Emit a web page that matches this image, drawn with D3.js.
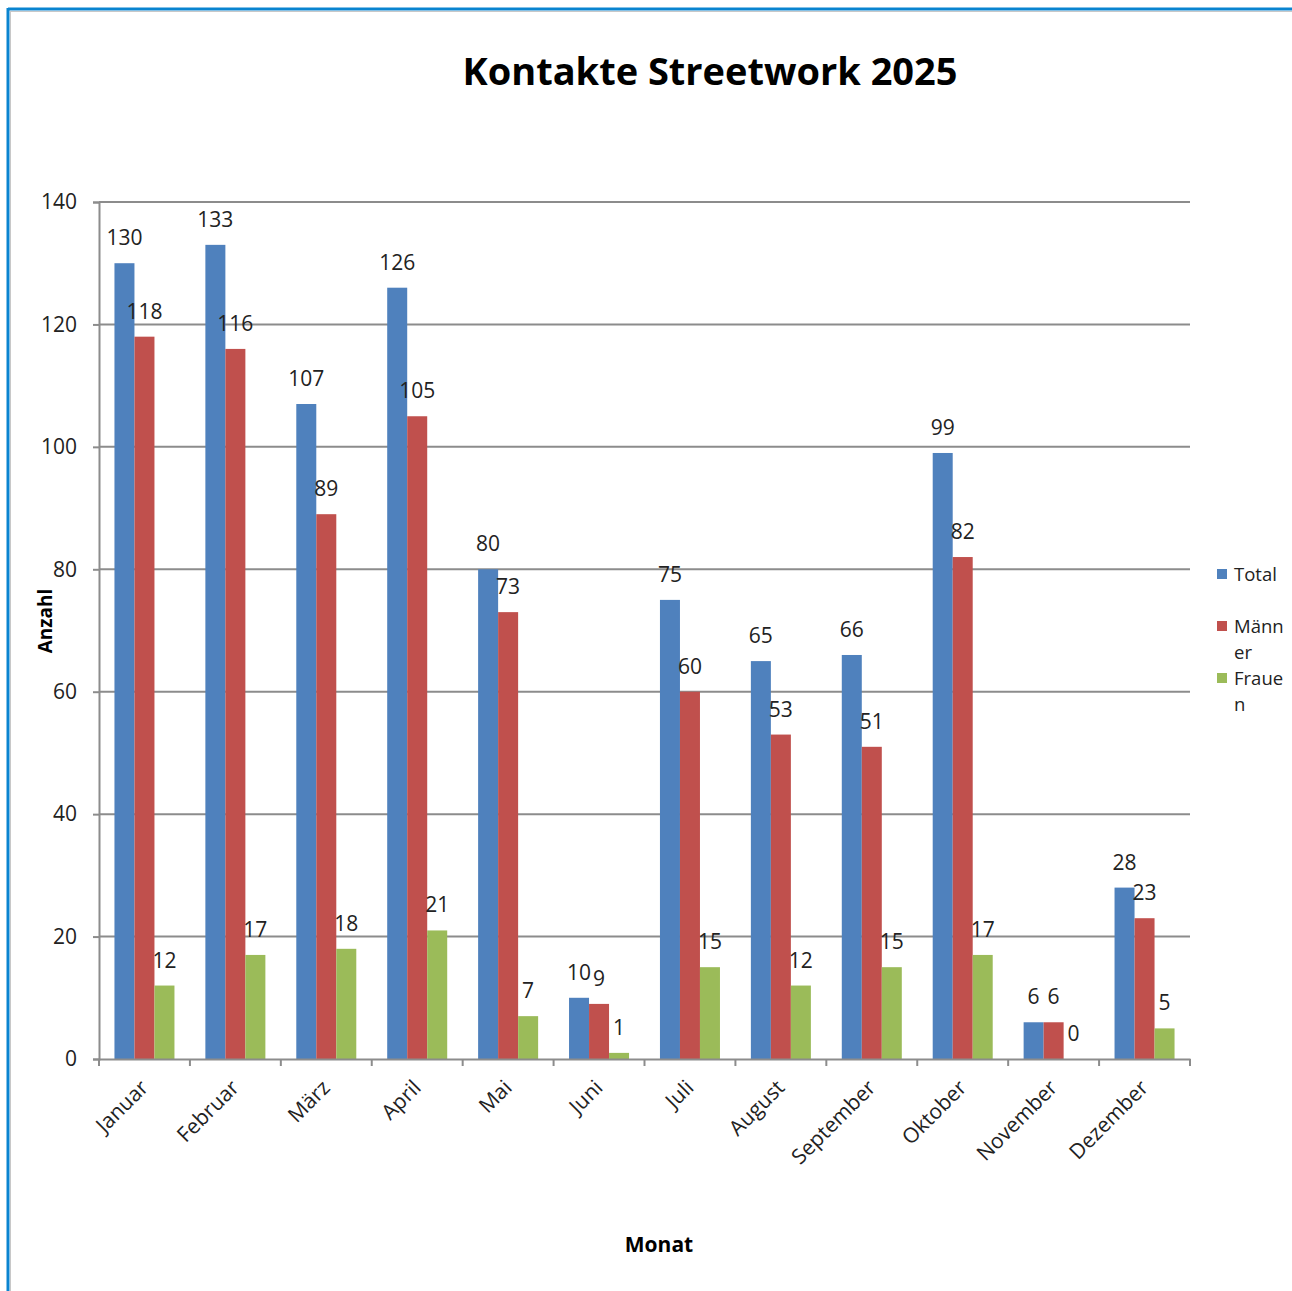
<!DOCTYPE html>
<html><head><meta charset="utf-8">
<script src="https://cdn.jsdelivr.net/npm/d3@7"></script>
<style>html,body{margin:0;padding:0;background:#fff;}svg{display:block;}</style>
</head><body>
<script>
const categories = ["Januar","Februar","März","April","Mai","Juni","Juli","August","September","Oktober","November","Dezember"];
const seriesNames = ["Total","Männer","Frauen"];
const total = [130,133,107,126,80,10,75,65,66,99,6,28];
const maenner = [118,116,89,105,73,9,60,53,51,82,6,23];
const frauen = [12,17,18,21,7,1,15,12,15,17,0,5];
const yTicks = [0,20,40,60,80,100,120,140];
const colors = ["#4F81BD","#C0504D","#9BBB59"];

const W = 1292, H = 1291;
const svg = d3.select("body").append("svg").attr("width", W).attr("height", H);
const font = "'Open Sans', 'Liberation Sans', sans-serif";

// frame
svg.append("line").attr("x1",8).attr("x2",W).attr("y1",9).attr("y2",9).attr("stroke","#0A84D0").attr("stroke-width",3);
svg.append("line").attr("x1",8).attr("x2",8).attr("y1",8).attr("y2",H).attr("stroke","#0A84D0").attr("stroke-width",3);
svg.append("line").attr("x1",11).attr("x2",W).attr("y1",11.5).attr("y2",11.5).attr("stroke","#c8c8c8").attr("stroke-width",1);
svg.append("line").attr("x1",10.5).attr("x2",10.5).attr("y1",11).attr("y2",H).attr("stroke","#c8c8c8").attr("stroke-width",1);

const pLeft = 99, pRight = 1190, pTop = 202, pBottom = 1059;
const x = d3.scaleBand().domain(categories).range([pLeft, pRight]).padding(0);
const y = d3.scaleLinear().domain([0,140]).range([pBottom, pTop]);
const bw = x.bandwidth();
const barW = bw * 0.22;
const x1 = d3.scaleBand().domain(seriesNames).range([(bw - 3*barW)/2, (bw + 3*barW)/2]);

// gridlines
svg.append("g").selectAll("line").data(yTicks.filter(d=>d>0)).join("line")
  .attr("x1", pLeft).attr("x2", pRight).attr("y1", d=>y(d)).attr("y2", d=>y(d))
  .attr("stroke","#8c8c8c").attr("stroke-width",2);

// y axis
const yAxis = svg.append("g").attr("transform",`translate(${pLeft},0)`)
  .call(d3.axisLeft(y).tickValues(yTicks).tickSize(6).tickPadding(16));
yAxis.select(".domain").attr("stroke","#8c8c8c").attr("stroke-width",2);
yAxis.selectAll(".tick line").attr("stroke","#8c8c8c").attr("stroke-width",2);
yAxis.selectAll("text").attr("font-family",font).attr("font-size",21).attr("fill","#222");

// bars
const data = [total, maenner, frauen];
const groups = svg.append("g").selectAll("g").data(categories).join("g")
  .attr("transform", d=>`translate(${x(d)},0)`);
groups.selectAll("rect").data((c,i)=>seriesNames.map((s,j)=>({s, v:data[j][i], j})))
  .join("rect")
  .attr("x", d=>x1(d.s)).attr("width", x1.bandwidth())
  .attr("y", d=>y(d.v)).attr("height", d=>pBottom - y(d.v))
  .attr("fill", d=>colors[d.j]);
groups.selectAll("text").data((c,i)=>seriesNames.map((s,j)=>({s, v:data[j][i], j})))
  .join("text")
  .attr("x", d=>x1(d.s) + x1.bandwidth()/2).attr("y", d=>y(d.v) - 18)
  .attr("text-anchor","middle").attr("font-family",font).attr("font-size",21).attr("fill","#222")
  .text(d=>d.v);

// x axis
const xAxis = svg.append("g").attr("transform",`translate(0,${pBottom})`)
  .call(d3.axisBottom(x).tickSize(0).tickFormat(""));
xAxis.select(".domain").attr("stroke","#8c8c8c").attr("stroke-width",2);
const boundaries = d3.range(categories.length+1).map(i=>pLeft + i*bw);
svg.append("g").selectAll("line").data(boundaries).join("line")
  .attr("x1",d=>d).attr("x2",d=>d).attr("y1",pBottom).attr("y2",pBottom+7)
  .attr("stroke","#8c8c8c").attr("stroke-width",2);
svg.append("g").selectAll("text").data(categories).join("text")
  .attr("transform", d=>`translate(${x(d)+bw/2+5},${pBottom+30}) rotate(-45)`)
  .attr("text-anchor","end").attr("font-family",font).attr("font-size",21).attr("fill","#222")
  .text(d=>d);

// title
svg.append("text").attr("x",710).attr("y",85).attr("text-anchor","middle")
  .attr("font-family",font).attr("font-weight","bold").attr("font-size",37).attr("fill","#000")
  .attr("textLength",495).attr("lengthAdjust","spacingAndGlyphs")
  .text("Kontakte Streetwork 2025");

// axis titles
svg.append("text").attr("transform","translate(52,621) rotate(-90)").attr("text-anchor","middle")
  .attr("font-family",font).attr("font-weight","bold").attr("font-size",19).attr("fill","#000").text("Anzahl");
svg.append("text").attr("x",659).attr("y",1252).attr("text-anchor","middle")
  .attr("font-family",font).attr("font-weight","bold").attr("font-size",21).attr("fill","#000").text("Monat");

// legend
const legendItems = [
  {c:colors[0], lines:["Total"], y:574},
  {c:colors[1], lines:["Männ","er"], y:626},
  {c:colors[2], lines:["Fraue","n"], y:678}
];
const lg = svg.append("g");
legendItems.forEach(it=>{
  lg.append("rect").attr("x",1217).attr("y",it.y-5).attr("width",10).attr("height",10).attr("fill",it.c);
  it.lines.forEach((t,k)=>{
    lg.append("text").attr("x",1234).attr("y",it.y+7+k*26).attr("font-family",font).attr("font-size",18.5).attr("fill","#222").text(t);
  });
});
</script>
</body></html>
